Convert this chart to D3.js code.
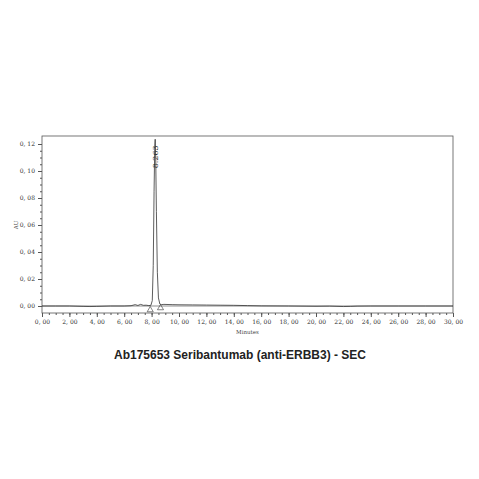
<!DOCTYPE html>
<html><head><meta charset="utf-8">
<script src="https://cdn.jsdelivr.net/npm/d3@7"></script>
<style>body{margin:0;background:#fff}</style></head>
<body><div id="chart"></div>
<script>
// chromatogram trace (minutes, AU)
const times = [0,1,2,3,3.5,4,5,6,6.5,6.8,7.0,7.2,7.4,7.6,7.8,7.95,8.05,8.12,8.18,8.23,8.263,8.3,8.35,8.42,8.5,8.6,8.7,8.9,9.5,10,11,12,13,14,15,16,18,20,21,22,22.5,23,24,26,28,30];
const values = [0,0,0,-0.0003,-0.0004,-0.0003,0,0,0.0002,0.001,0.0004,0.0012,0.0005,0.0006,0.0003,0.0005,0.004,0.03,0.085,0.118,0.1235,0.11,0.07,0.025,0.006,0.0015,0.001,0.0012,0.0010,0.0009,0.0008,0.0007,0.0006,0.0005,0.0003,0.0001,0,-0.0002,-0.0001,-0.0004,-0.0003,-0.0001,0,0,0,0];
const xTicks = d3.range(0, 30.01, 2);
const yTicks = [0, 0.02, 0.04, 0.06, 0.08, 0.10, 0.12];
const baselineMarks = [7.9, 8.65];
const peakLabel = "8.263";
const title = "Ab175653 Seribantumab (anti-ERBB3) - SEC";

const W = 479, H = 479;
const margin = {left: 42, right: 26, top: 136, bottom: 166};
const svg = d3.select('#chart').append('svg').attr('width', W).attr('height', H);
const x = d3.scaleLinear().domain([0, 30]).range([margin.left, W - margin.right]);
const y = d3.scaleLinear().domain([0, 0.12]).range([306, 144]);
const bottom = H - margin.bottom;
const serif = 'DejaVu Serif, Liberation Serif, serif';

svg.append('rect').attr('x', margin.left).attr('y', margin.top)
    .attr('width', x(30) - x(0)).attr('height', bottom - margin.top)
    .attr('fill', 'none').attr('stroke', '#555').attr('stroke-width', 0.8);

svg.append('g').attr('transform', 'translate(0,' + bottom + ')')
    .call(d3.axisBottom(x).tickValues(xTicks).tickSize(4).tickFormat(d => d.toFixed(2).replace('.', ', ')));
svg.append('g').attr('transform', 'translate(0,' + bottom + ')')
    .call(d3.axisBottom(x).tickValues(d3.range(0, 30.01, 0.5)).tickSize(2).tickFormat(''));
svg.append('g').attr('transform', 'translate(' + margin.left + ',0)')
    .call(d3.axisLeft(y).tickValues(yTicks).tickSize(4).tickFormat(d => d.toFixed(2).replace('.', ', ')));
svg.append('g').attr('transform', 'translate(' + margin.left + ',0)')
    .call(d3.axisLeft(y).tickValues(d3.range(0, 0.1201, 0.005)).tickSize(2).tickFormat(''));
svg.selectAll('.domain').remove();
svg.selectAll('.tick line').attr('stroke', '#555');
svg.selectAll('.tick text').attr('font-family', serif).attr('font-size', 6).attr('fill', '#333');

svg.append('text').attr('x', (x(0) + x(30)) / 2).attr('y', 334).attr('text-anchor', 'middle')
    .attr('font-family', serif).attr('font-size', 5.5).attr('fill', '#444').text('Minutes');
svg.append('text').attr('transform', 'translate(18,' + y(0.06) + ') rotate(-90)').attr('text-anchor', 'middle')
    .attr('font-family', serif).attr('font-size', 5.5).attr('fill', '#444').text('AU');

// baseline
svg.append('line').attr('x1', x(0)).attr('x2', x(30)).attr('y1', y(0)).attr('y2', y(0))
    .attr('stroke', '#444').attr('stroke-width', 0.6);
svg.append('path').datum(times.map((t, i) => [t, values[i]]))
    .attr('d', d3.line().x(d => x(d[0])).y(d => y(d[1])))
    .attr('fill', 'none').attr('stroke', '#333').attr('stroke-width', 0.8);

svg.selectAll('.mark').data(baselineMarks).enter().append('path')
    .attr('transform', (d, i) => 'translate(' + x(d) + ',' + (y(0) + (i ? 2 : 4)) + ')')
    .attr('d', d3.symbol(d3.symbolTriangle, 16)).attr('fill', 'none').attr('stroke', '#333').attr('stroke-width', 0.6);

svg.append('text').attr('transform', 'translate(' + (x(8.263) + 2.5) + ',' + y(0.102) + ') rotate(-90)')
    .attr('font-family', serif).attr('font-size', 8).attr('fill', '#333').text(peakLabel);

svg.append('text').attr('x', 240).attr('y', 359).attr('text-anchor', 'middle')
    .attr('font-family', 'Liberation Sans, Arial, sans-serif').attr('font-weight', 'bold').attr('font-size', 12)
    .attr('fill', '#222').text(title);
</script></body></html>
